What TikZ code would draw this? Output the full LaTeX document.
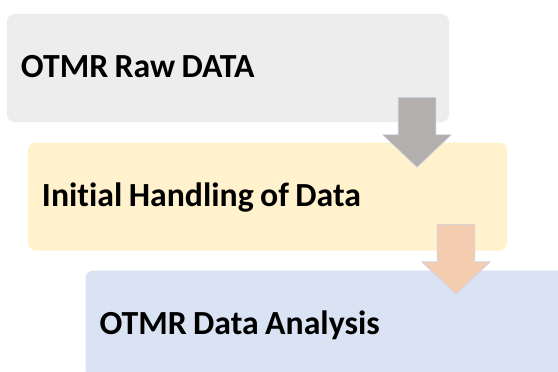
\documentclass[tikz,border=0pt]{standalone}
\usepackage{fontspec}
\setmainfont{Carlito}[Ligatures=NoCommon]
\usetikzlibrary{shapes.arrows}
\definecolor{rawgray}{HTML}{EDEDED}
\definecolor{handleyellow}{HTML}{FFF2CC}
\definecolor{analysisblue}{HTML}{DAE3F3}
\definecolor{arrowgray}{HTML}{B3AFAD}
\definecolor{arrowpeach}{HTML}{F4CDB0}
\definecolor{arrowrim}{HTML}{CDD4EA}
\newdimen\unitpx \unitpx=0.025cm
\tikzset{
  stepbox/.style={rectangle, rounded corners=8\unitpx, minimum height=108\unitpx, inner xsep=14\unitpx, inner ysep=0pt, align=left, text height=19\unitpx, text depth=0pt, font=\fontsize{24}{28}\selectfont\bfseries, execute at begin node={\spaceskip=0.19em\relax}},
  downarrow/.style={single arrow, shape border rotate=270, minimum height=70\unitpx, inner sep=18.5\unitpx, single arrow head extend=15.5\unitpx, single arrow tip angle=93, anchor=tail, draw=arrowrim, line width=0.4pt}
}

\begin{document}
\begin{tikzpicture}[x=0.025cm, y=-0.025cm]
  \clip (0,0) rectangle (558,371);
  \fill[white] (0,0) rectangle (558,371);
  \node[stepbox, fill=rawgray, text width=414\unitpx] (raw) at (228,68) {OTMR Raw DATA};
  \node[stepbox, fill=handleyellow, text width=451\unitpx] (handling) at (267.5,196.5) {Initial Handling of Data};
  \node[stepbox, fill=analysisblue, text width=452\unitpx] (analysis) at (325.5,324.5) {OTMR Data Analysis};
  \node[downarrow, fill=arrowgray] (rawtohandling) at (417,97) {};
  \node[downarrow, fill=arrowpeach] (handlingtoanalysis) at (456,224) {};
\end{tikzpicture}
\end{document}
